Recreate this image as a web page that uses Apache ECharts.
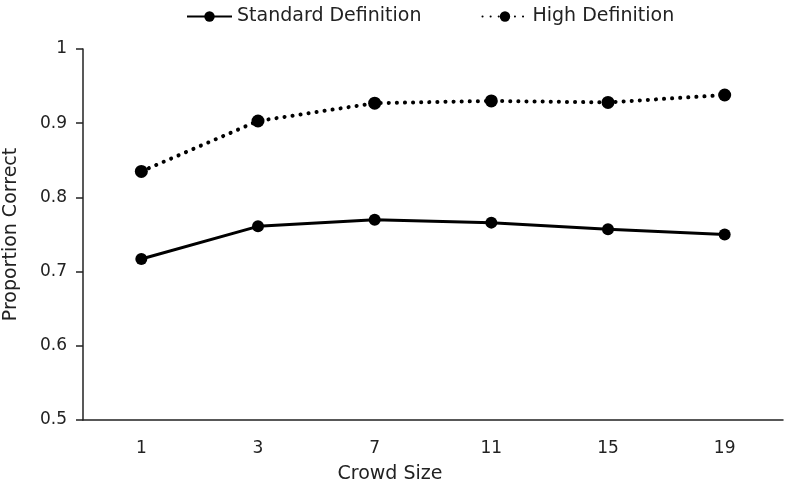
<!DOCTYPE html>
<html>
<head>
<meta charset="utf-8">
<script src="https://cdn.jsdelivr.net/npm/echarts@6/dist/echarts.min.js"></script>
<style>html,body{margin:0;padding:0;background:#fff}#c{width:787px;height:484px}</style>
</head>
<body>
<div id="c"></div>
<script>
var categories = ['1', '3', '7', '11', '15', '19'];
var standardDef = [0.717, 0.761, 0.770, 0.766, 0.757, 0.750];
var highDef = [0.835, 0.903, 0.927, 0.930, 0.928, 0.938];
var yTicks = [0.5, 0.6, 0.7, 0.8, 0.9, 1];

var FONT = 'DejaVu Sans';
var chart = echarts.init(document.getElementById('c'));
chart.setOption({
  animation: false,
  textStyle: { fontFamily: FONT, color: '#222' },
  legend: {
    top: 2,
    left: 181,
    itemWidth: 45,
    itemHeight: 13,
    itemGap: 60,
    textStyle: { fontFamily: FONT, fontSize: 19, color: '#222' },
    data: ['Standard Definition', 'High Definition']
  },
  grid: { left: 83, right: 4, top: 49, bottom: 64, containLabel: false, outerBoundsMode: 'none' },
  xAxis: {
    type: 'category',
    data: categories,
    boundaryGap: true,
    name: 'Crowd Size',
    nameLocation: 'middle',
    nameGap: 45,
    nameTextStyle: { fontFamily: FONT, fontSize: 19, color: '#222', padding: [0, 86, 0, 0] },
    axisLine: { lineStyle: { color: '#222', width: 1.5 } },
    axisTick: { alignWithLabel: true, length: 6, lineStyle: { color: '#222', width: 1.5 } },
    axisLabel: { fontFamily: FONT, fontSize: 17, color: '#222', margin: 20 },
    splitLine: { show: false }
  },
  yAxis: {
    type: 'value',
    min: yTicks[0],
    max: yTicks[yTicks.length - 1],
    interval: 0.1,
    name: 'Proportion Correct',
    nameLocation: 'middle',
    nameGap: 62,
    nameTextStyle: { fontFamily: FONT, fontSize: 19, color: '#222' },
    axisLine: { show: true, lineStyle: { color: '#222', width: 1.5 } },
    axisTick: { show: true, length: 7, lineStyle: { color: '#222', width: 1.5 } },
    axisLabel: {
      fontFamily: FONT, fontSize: 17, color: '#222', margin: 16,
      formatter: function (v) { return String(Math.round(v * 10) / 10); }
    },
    splitLine: { show: false }
  },
  series: [
    {
      name: 'Standard Definition',
      type: 'line',
      data: standardDef,
      symbol: 'circle',
      symbolSize: 12,
      itemStyle: { color: '#000' },
      lineStyle: { color: '#000', width: 3 }
    },
    {
      name: 'High Definition',
      type: 'line',
      data: highDef,
      symbol: 'circle',
      symbolSize: 13,
      itemStyle: { color: '#000' },
      lineStyle: { color: '#000', width: 4, type: [0.1, 8], cap: 'round' }
    }
  ]
});
</script>
</body>
</html>
